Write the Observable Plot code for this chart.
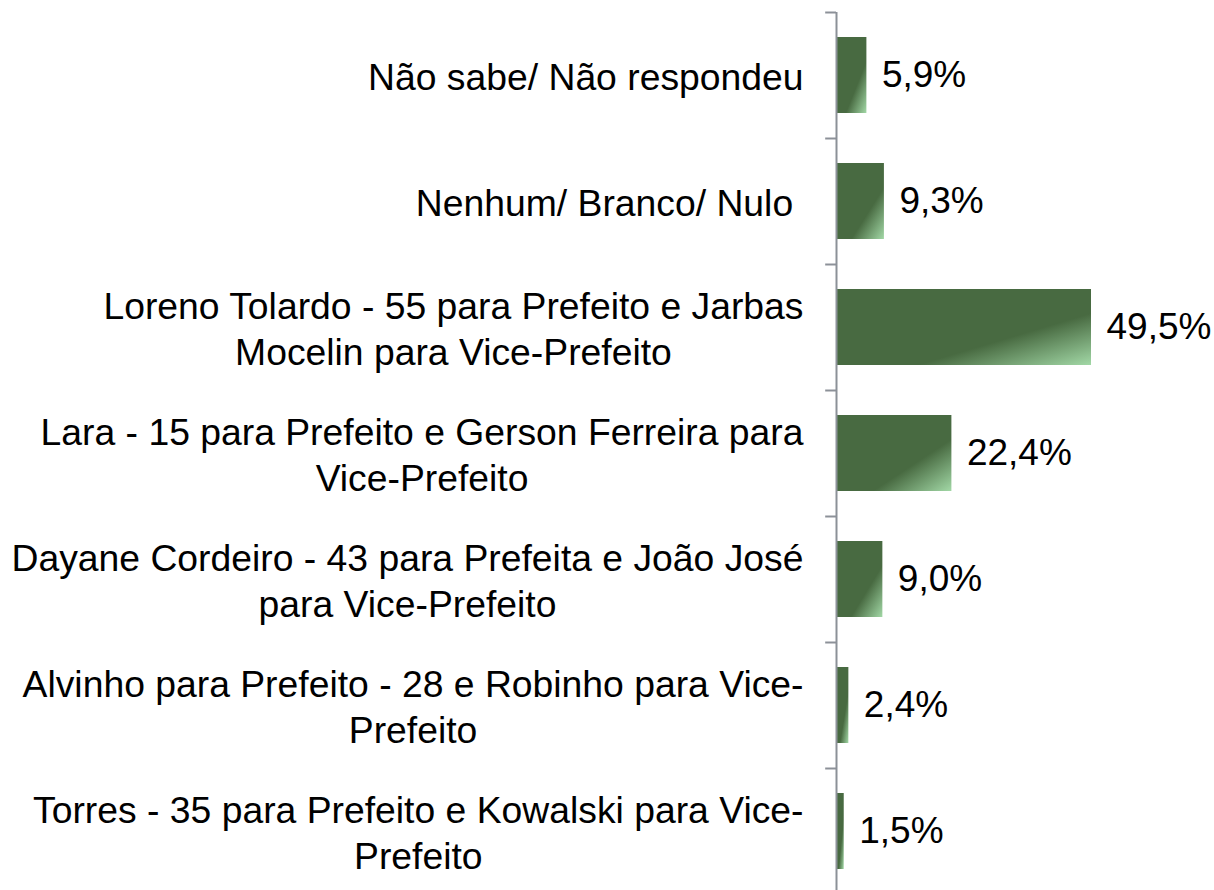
<!DOCTYPE html>
<html>
<head>
<meta charset="utf-8">
<script src="https://cdn.jsdelivr.net/npm/d3@7"></script>
<script src="https://cdn.jsdelivr.net/npm/@observablehq/plot@0.6"></script>
<style>
  html, body { margin: 0; padding: 0; background: #fff; }
  #chart svg { display: block; }
</style>
</head>
<body>
<div id="chart"></div>
<script>
const categories = [
  "Não sabe/ Não respondeu",
  "Nenhum/ Branco/ Nulo ",
  "Loreno Tolardo - 55 para Prefeito e Jarbas\nMocelin para Vice-Prefeito",
  "Lara - 15 para Prefeito e Gerson Ferreira para\nVice-Prefeito",
  "Dayane Cordeiro - 43 para Prefeita e João José\npara Vice-Prefeito",
  "Alvinho para Prefeito - 28 e Robinho para Vice-\nPrefeito",
  "Torres - 35 para Prefeito e Kowalski para Vice-\nPrefeito"
];
const values = [5.9, 9.3, 49.5, 22.4, 9.0, 2.4, 1.5];

const data = categories.map((c, i) => ({cat: c, value: values[i]}));
const fmt = v => v.toFixed(1).replace(".", ",") + "%";
const axisColor = "#8c9198";

const chart = Plot.plot({
  width: 1214,
  height: 890,
  marginTop: 12,
  marginBottom: 0,
  marginLeft: 836,
  marginRight: 123,
  style: {fontFamily: "'Liberation Sans', Arial, sans-serif", background: "#fff"},
  x: {domain: [0, 49.5], range: [836, 1091], axis: null},
  y: {domain: categories, range: [12, 894], paddingInner: 0.4, paddingOuter: 0.2, axis: null},
  marks: [
    Plot.barX(data, {x: "value", y: "cat", fill: "url(#barGrad)"}),
    Plot.ruleX([0], {stroke: axisColor, strokeWidth: 2}),
    Plot.ruleY(data, {y: "cat", x1: -2.1, x2: 0, dy: -63, stroke: axisColor, strokeWidth: 2}),
    Plot.text(data, {x: 0, y: "cat", text: "cat", textAnchor: "end", dx: -33, fontSize: 37.3, lineHeight: 1.21, fill: "#000", className: "cat-labels"}),
    Plot.text(data, {x: "value", y: "cat", text: d => fmt(d.value), textAnchor: "start", dx: 15, fontSize: 37, fill: "#000"})
  ]
});

const ns = "http://www.w3.org/2000/svg";
const defs = document.createElementNS(ns, "defs");
const grad = document.createElementNS(ns, "linearGradient");
grad.setAttribute("id", "barGrad");
grad.setAttribute("x1", "0"); grad.setAttribute("y1", "0");
grad.setAttribute("x2", "1"); grad.setAttribute("y2", "1");
[[0, "#486a41"], [0.66, "#486a41"], [1, "#a2d8a6"]].forEach(([o, c]) => {
  const s = document.createElementNS(ns, "stop");
  s.setAttribute("offset", o); s.setAttribute("stop-color", c);
  grad.appendChild(s);
});
defs.appendChild(grad);
chart.insertBefore(defs, chart.firstChild);

document.getElementById("chart").appendChild(chart);

// center multi-line labels within their right-aligned block
const lg = chart.querySelector("g.cat-labels");
if (lg) {
  lg.style.whiteSpace = "pre";
  lg.querySelectorAll("text").forEach(t => {
    const spans = t.querySelectorAll("tspan");
    if (spans.length > 1) {
      let w = 0;
      spans.forEach(s => { w = Math.max(w, s.getComputedTextLength()); });
      t.setAttribute("text-anchor", "middle");
      spans.forEach(s => s.setAttribute("x", -w / 2));
    }
  });
}
</script>
</body>
</html>
